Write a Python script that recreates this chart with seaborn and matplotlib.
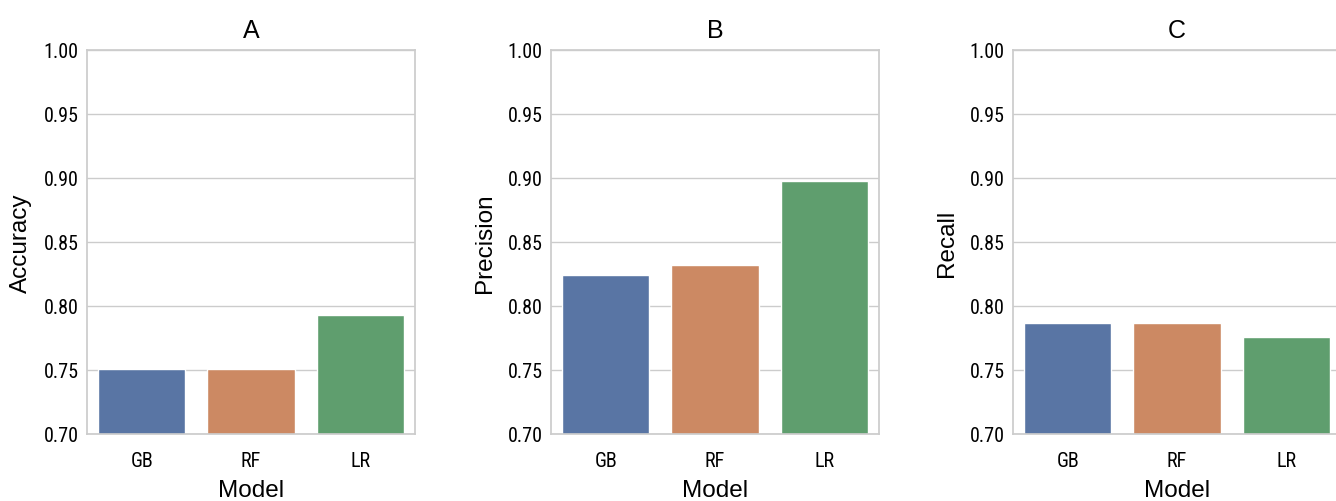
import matplotlib
matplotlib.use("Agg")
import matplotlib.pyplot as plt
import seaborn as sns
import pandas as pd

models = ["GB", "RF", "LR"]
accuracy = [0.751, 0.751, 0.793]
precision = [0.824, 0.832, 0.898]
recall = [0.787, 0.787, 0.776]
panel_titles = ["A", "B", "C"]
metric_names = ["Accuracy", "Precision", "Recall"]
y_ticks = [0.70, 0.75, 0.80, 0.85, 0.90, 0.95, 1.00]

sns.set_theme(style="whitegrid")
plt.rcParams['font.family'] = ['Liberation Sans', 'DejaVu Sans']
for k in ['text.color', 'axes.labelcolor', 'xtick.color', 'ytick.color']:
    plt.rcParams[k] = 'black'

palette = sns.color_palette("deep", 3)

W, H = 1336, 502
fig, axes = plt.subplots(1, 3, figsize=(W / 100, H / 100), dpi=100)
lefts = [87, 551, 1013]
ax_w, top_px, bot_px = 328, 51, 435
for ax, lx in zip(axes, lefts):
    ax.set_position([lx / W, 1 - bot_px / H, ax_w / W, (bot_px - top_px) / H])

tick_font = {'family': ['Roboto Condensed', 'Liberation Sans', 'DejaVu Sans'], 'size': 14.5}

for ax, vals, title, name in zip(axes, [accuracy, precision, recall], panel_titles, metric_names):
    df = pd.DataFrame({"Model": models, name: vals})
    sns.barplot(data=df, x="Model", y=name, hue="Model", palette=palette, legend=False, ax=ax, width=0.8)
    ax.set_ylim(0.70, 1.00)
    ax.set_yticks(y_ticks)
    ax.set_yticklabels([f"{t:.2f}" for t in y_ticks], fontdict=tick_font)
    ax.set_xticks(range(len(models)))
    ax.set_xticklabels(models, fontdict=tick_font)
    ax.set_title(title, fontsize=18, pad=9)
    ax.set_xlabel("Model", fontsize=17.5, labelpad=7)
    ax.set_ylabel(name, fontsize=17.5, labelpad=8)
    ax.tick_params(axis='x', length=0, pad=12)
    ax.tick_params(axis='y', length=0, pad=6)
    ax.grid(axis='x', visible=False)
    for s in ax.spines.values():
        s.set_color('#cccccc')

fig.savefig("out.png", dpi=100)
